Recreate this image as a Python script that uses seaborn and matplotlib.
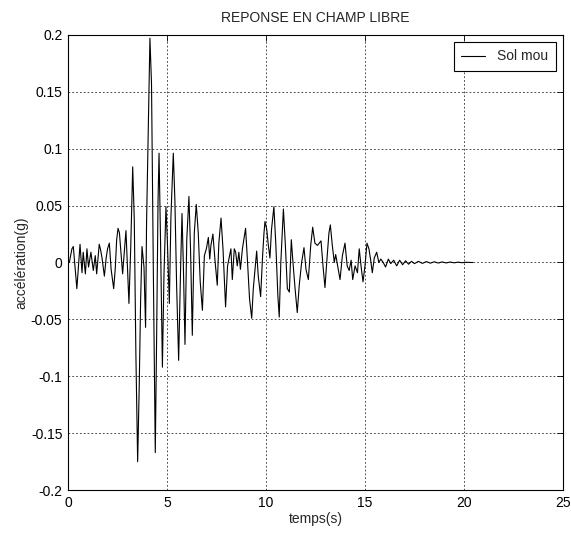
import numpy as np
import pandas as pd
import seaborn as sns
import matplotlib
matplotlib.use("Agg")
import matplotlib.pyplot as plt
from matplotlib.ticker import FuncFormatter

# Time axis (s)
temps = [
    0.0, 0.07, 0.2, 0.27, 0.35, 0.45, 0.53, 0.61, 0.71, 0.77,
    0.88, 0.96, 1.04, 1.16, 1.28, 1.38, 1.45, 1.58, 1.65, 1.72,
    1.84, 1.93, 2.0, 2.09, 2.18, 2.31, 2.39, 2.46, 2.53, 2.6,
    2.68, 2.76, 2.93, 3.08, 3.17, 3.27, 3.35, 3.43, 3.52, 3.6,
    3.67, 3.74, 3.84, 3.92, 3.97, 4.05, 4.14, 4.22, 4.31, 4.41,
    4.48, 4.55, 4.6, 4.67, 4.77, 4.85, 4.95, 5.02, 5.12, 5.2,
    5.32, 5.4, 5.49, 5.59, 5.69, 5.76, 5.83, 5.91, 6.0, 6.11,
    6.19, 6.28, 6.38, 6.48, 6.58, 6.68, 6.79, 6.89, 6.99, 7.09,
    7.16, 7.22, 7.32, 7.42, 7.54, 7.62, 7.73, 7.83, 7.96, 8.06,
    8.16, 8.23, 8.3, 8.4, 8.47, 8.55, 8.63, 8.71, 8.81, 8.91,
    8.97, 9.07, 9.17, 9.28, 9.36, 9.45, 9.53, 9.61, 9.73, 9.83,
    9.9, 9.95, 10.04, 10.12, 10.2, 10.28, 10.4, 10.5, 10.6, 10.67,
    10.75, 10.88, 10.98, 11.08, 11.18, 11.28, 11.35, 11.47, 11.58, 11.68,
    11.8, 11.92, 12.02, 12.14, 12.26, 12.36, 12.47, 12.6, 12.78, 12.88,
    12.98, 13.08, 13.18, 13.25, 13.35, 13.45, 13.52, 13.62, 13.74, 13.86,
    13.99, 14.1, 14.2, 14.3, 14.38, 14.5, 14.62, 14.71, 14.8, 14.9,
    15.0, 15.1, 15.2, 15.28, 15.37, 15.47, 15.59, 15.7, 15.8, 15.92,
    16.04, 16.18, 16.3, 16.45, 16.6, 16.75, 16.9, 17.05, 17.2, 17.35,
    17.5, 17.7, 17.9, 18.1, 18.3, 18.5, 18.7, 18.9, 19.1, 19.3,
    19.5, 19.7, 19.9, 20.1, 20.3, 20.45,
]

# Acceleration (g), one value per time above
acceleration = [
    0.0, 0.0, 0.012, 0.014, -0.002, -0.023, -0.003, 0.016, -0.009, 0.009,
    -0.010, 0.012, -0.004, 0.009, -0.007, 0.006, -0.010, 0.016, 0.011, 0.004,
    -0.012, 0.004, 0.012, 0.017, -0.006, -0.023, -0.005, 0.020, 0.030, 0.026,
    0.008, -0.010, 0.028, -0.036, 0.013, 0.084, 0.037, -0.080, -0.175, -0.108,
    -0.033, 0.014, -0.004, -0.057, 0.035, 0.113, 0.197, 0.157, -0.004, -0.167,
    -0.063, 0.055, 0.096, 0.025, -0.092, -0.010, 0.049, 0.019, -0.036, 0.040,
    0.096, 0.055, -0.022, -0.086, -0.004, 0.043, -0.004, -0.072, 0.020, 0.058,
    0.012, -0.064, 0.026, 0.051, 0.026, -0.017, -0.042, 0.006, 0.012, 0.022,
    0.003, 0.015, 0.025, 0.003, -0.020, 0.017, 0.039, 0.012, -0.039, -0.003,
    0.006, 0.012, -0.015, 0.012, 0.009, -0.003, 0.009, -0.006, 0.012, 0.023,
    0.030, 0.0, -0.032, -0.049, -0.023, -0.006, 0.010, -0.012, -0.030, 0.006,
    0.026, 0.036, 0.029, 0.015, 0.004, 0.029, 0.049, 0.015, -0.029, -0.048,
    0.0, 0.047, 0.015, -0.023, -0.026, 0.020, 0.003, -0.023, -0.044, -0.020,
    0.0, 0.013, -0.006, -0.015, 0.015, 0.031, 0.017, 0.015, 0.019, -0.003,
    -0.022, 0.003, 0.026, 0.033, 0.015, 0.0, 0.007, -0.003, -0.015, 0.006,
    0.017, -0.003, -0.007, 0.002, -0.015, -0.003, -0.009, 0.012, -0.003, -0.017,
    -0.003, 0.017, 0.012, 0.003, -0.009, 0.004, 0.009, 0.0, 0.003, 0.0,
    -0.004, 0.003, -0.001, 0.002, -0.003, 0.002, -0.002, 0.0015, -0.0015, 0.001,
    -0.001, 0.001, -0.0008, 0.0008, -0.0006, 0.0006, -0.0005, 0.0005, -0.0004, 0.0004,
    -0.0003, 0.0003, -0.0002, 0.0002, 0.0, 0.0,
]

x_ticks = [0, 5, 10, 15, 20, 25]
y_ticks = [-0.2, -0.15, -0.1, -0.05, 0, 0.05, 0.1, 0.15, 0.2]

df = pd.DataFrame({"temps": temps, "acc": acceleration})

sns.set_style("white")
plt.rcParams["font.family"] = ["Liberation Sans", "DejaVu Sans"]
plt.rcParams["font.size"] = 10

fig = plt.figure(figsize=(5.71, 5.44), dpi=100)
ax = fig.add_axes([0.119, 0.099, 0.867, 0.837])

sns.lineplot(data=df, x="temps", y="acc", color="black", linewidth=0.8,
             estimator=None, sort=False, label="Sol mou", ax=ax)

ax.set_xlim(0, 25)
ax.set_ylim(-0.2, 0.2)
ax.set_xticks(x_ticks)
ax.set_yticks(y_ticks)
ax.yaxis.set_major_formatter(FuncFormatter(lambda v, p: "%g" % round(v, 2)))
ax.grid(True, color="black", linestyle=(0, (2.5, 3)), linewidth=0.5)
ax.tick_params(direction="in", length=4, width=0.6, top=True, right=True,
               labelsize=10, colors="black", pad=4)
for s in ax.spines.values():
    s.set_color("black")
    s.set_linewidth(0.8)

ax.set_title("REPONSE EN CHAMP LIBRE", fontsize=10, pad=9)
ax.set_xlabel("temps(s)", fontsize=10, labelpad=2)
ax.set_ylabel("accélération(g)", fontsize=10, labelpad=2)

leg = ax.legend(loc="upper right", fancybox=False, framealpha=1,
                edgecolor="black", handlelength=1.7, handletextpad=0.9,
                borderpad=0.55, borderaxespad=0.5, fontsize=10)
leg.get_frame().set_linewidth(0.8)

fig.savefig("out.png", dpi=100)
